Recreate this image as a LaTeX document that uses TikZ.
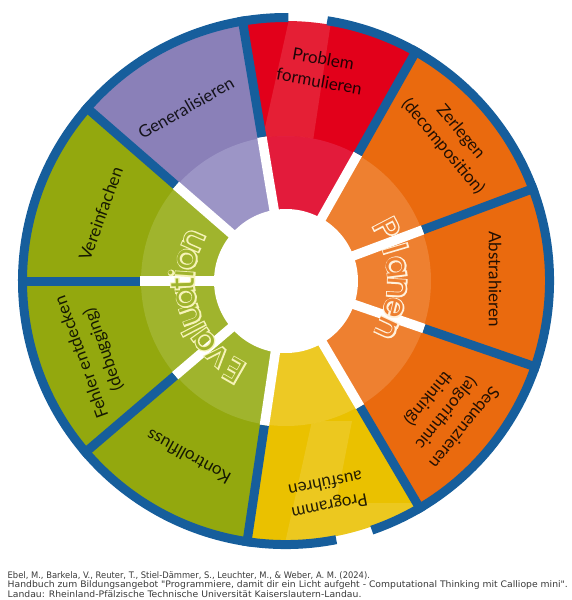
\documentclass[tikz,border=0pt]{standalone}
\usepackage{fontspec}
\setmainfont{Lato}
\newfontfamily\labfont{Lato}
\newfontfamily\rndfont{Poppins}
\newfontfamily\rndbold[FakeBold=8]{Poppins}
\newfontfamily\citefont{DejaVu Sans}
\usetikzlibrary{calc}
\definecolor{blueC}{HTML}{165E9C}
\definecolor{purD}{HTML}{8A80B8}
\definecolor{purL}{HTML}{9C95C6}
\definecolor{redD}{HTML}{E2001A}
\definecolor{redL}{HTML}{E31B3B}
\definecolor{oraD}{HTML}{EA6A0E}
\definecolor{oraL}{HTML}{EE8030}
\definecolor{yelD}{HTML}{EAC100}
\definecolor{yelL}{HTML}{EDC924}
\definecolor{grnD}{HTML}{93A80E}
\definecolor{grnL}{HTML}{A0B42D}
\definecolor{creamE}{HTML}{F6F3B8}
\definecolor{creamP}{HTML}{FFF1DC}
\definecolor{citec}{HTML}{3A3A3A}

% sector: start, end, dark, light
\newcommand\segm[4]{%
  \fill[#3] (0,0) -- (#1:260) arc[start angle=#1, end angle=#2, radius=260pt] -- cycle;
  \fill[#4] (#1:145) arc[start angle=#1, end angle=#2, radius=145pt] -- (#2:72) arc[start angle=#2, end angle=#1, radius=72pt] -- cycle;
}
% outlined letter: name, angle, baseline radius, letter, fill colour, outline colour
\newcommand\olet[6]{%
  \node[oletter, font=\rndbold\fontsize{33}{33}\selectfont, text=#6, rotate=#2-90] (#1-o) at (#2:#3) {#4};%
  \node[oletter, text=#5, rotate=#2-90] (#1) at (#2:#3) {#4};%
}

\begin{document}
\begin{tikzpicture}[x=1pt,y=1pt,
  oletter/.style={font=\rndfont\fontsize{33}{33}\selectfont, anchor=base, inner sep=0pt},
  lab/.style={font=\labfont\fontsize{17}{23}\selectfont, text=black, text opacity=0.85, align=center, inner sep=0pt},
  cite/.style={font=\citefont\fontsize{9}{9}\selectfont, text=citec, anchor=base west, inner sep=0pt},
  wsep/.style={white, line width=9.5pt},
  bsep/.style={blueC, line width=9pt},
  band/.style={white, opacity=0.12}]
\useasboundingbox (-286,-319) rectangle (285,281);
\fill[white] (-286,-319) rectangle (285,281);
\coordinate (C) at (0,0);

% sectors
\segm{99.5}{139}{purD}{purL}
\segm{60.5}{99.5}{redD}{redL}
\segm{20.5}{60.5}{oraD}{oraL}
\segm{-19}{20.5}{oraD}{oraL}
\segm{-59.5}{-19}{oraD}{oraL}
\segm{-98.5}{-59.5}{yelD}{yelL}
\segm{220.5}{261.5}{grnD}{grnL}
\segm{180}{220.5}{grnD}{grnL}
\segm{139}{180}{grnD}{grnL}

% faint watermark bands
\begin{scope}
  \clip (60.5:145) -- (60.5:260) arc[start angle=60.5, end angle=99.5, radius=260pt] -- (99.5:145) arc[start angle=99.5, end angle=60.5, radius=145pt] -- cycle;
  \fill[band] (4,266) -- (46,266) -- (27,140) -- (-24,140) -- cycle;
\end{scope}
\begin{scope}
  \clip (-98.5:145) -- (-98.5:260) arc[start angle=-98.5, end angle=-59.5, radius=260pt] -- (-59.5:145) arc[start angle=-59.5, end angle=-98.5, radius=145pt] -- cycle;
  \fill[band] (26,-140) -- (66,-140) -- (50,-222) -- (150,-222) -- (150,-285) -- (-6,-285) -- cycle;
\end{scope}

% separators
\foreach \a [count=\i] in {180,139,99.5,60.5,20.5,-19,-59.5,-98.5,-139.5}{
  \coordinate (si\i) at (\a:60);
  \coordinate (sm\i) at (\a:146);
  \coordinate (so\i) at (\a:268);
  \draw[wsep] (si\i) -- (sm\i);
  \draw[bsep] (sm\i) -- (so\i);
}

% outer ring with two gaps
\coordinate (r1) at (81:263.5);
\coordinate (r2) at (-79:263.5);
\draw[blueC, line width=9pt] (r1) arc[start angle=81, end angle=-71, radius=263.5pt];
\draw[blueC, line width=9pt] (r2) arc[start angle=-79, end angle=-270.5, radius=263.5pt];

% inner white disc
\fill[white] (C) circle[radius=72pt];

% Planen
\olet{p1}{27.5}{102}{P}{oraL}{creamP}
\olet{p2}{16.5}{102}{l}{oraL}{creamP}
\olet{p3}{7}{102}{a}{oraL}{creamP}
\olet{p4}{-3.5}{102}{n}{oraL}{creamP}
\olet{p5}{-14}{102}{e}{oraL}{creamP}
\olet{p6}{-25}{102}{n}{oraL}{creamP}

% Evaluation
\olet{e1}{240}{92}{E}{grnL}{creamE}
\olet{e2}{227.5}{92}{v}{grnL}{creamE}
\olet{e3}{216}{92}{a}{grnL}{creamE}
\olet{e4}{207.5}{92}{l}{grnL}{creamE}
\olet{e5}{199.5}{92}{u}{grnL}{creamE}
\olet{e6}{189}{92}{a}{grnL}{creamE}
\olet{e7}{181.5}{92}{t}{grnL}{creamE}
\olet{e8}{176}{92}{i}{grnL}{creamE}
\olet{e9}{167.5}{92}{o}{grnL}{creamE}
\olet{e10}{156.5}{92}{n}{grnL}{creamE}

% labels
\node[lab, rotate=30] (gen) at (120:200) {Generalisieren};
\node[lab, rotate=-10] (prob) at (80.5:214) {Problem\\formulieren};
\node[lab, rotate=-50] (zer) at (40.5:218) {Zerlegen\\(decomposition)};
\node[lab, rotate=-90] (abs) at (0.5:209) {Abstrahieren};
\node[lab, rotate=-129] (seq) at (-39.5:207) {Sequenzieren\\(algorithmic\\thinking)};
\node[lab, rotate=-169] (prog) at (-79:218) {Programm\\ausführen};
\node[lab, rotate=151] (kon) at (241:201) {Kontrollfluss};
\node[lab, rotate=110] (feh) at (200.5:206) {Fehler entdecken\\(debugging)};
\node[lab, rotate=70] (ver) at (160:197) {Vereinfachen};

% citation
\node[cite] (c1) at (-278.5,-297) {\scalebox{0.93}[1]{Ebel, M., Barkela, V., Reuter, T., Stiel-Dämmer, S., Leuchter, M., \& Weber, A. M. (2024).}};
\node[cite] (c2) at (-278.5,-306.5) {\scalebox{1.027}[1]{Handbuch zum Bildungsangebot "Programmiere, damit dir ein Licht aufgeht - Computational Thinking mit Calliope mini".}};
\node[cite] (c3) at (-278.5,-316) {\scalebox{1.029}[1]{Landau: Rheinland-Pfälzische Technische Universität Kaiserslautern-Landau.}};
\end{tikzpicture}
\end{document}
